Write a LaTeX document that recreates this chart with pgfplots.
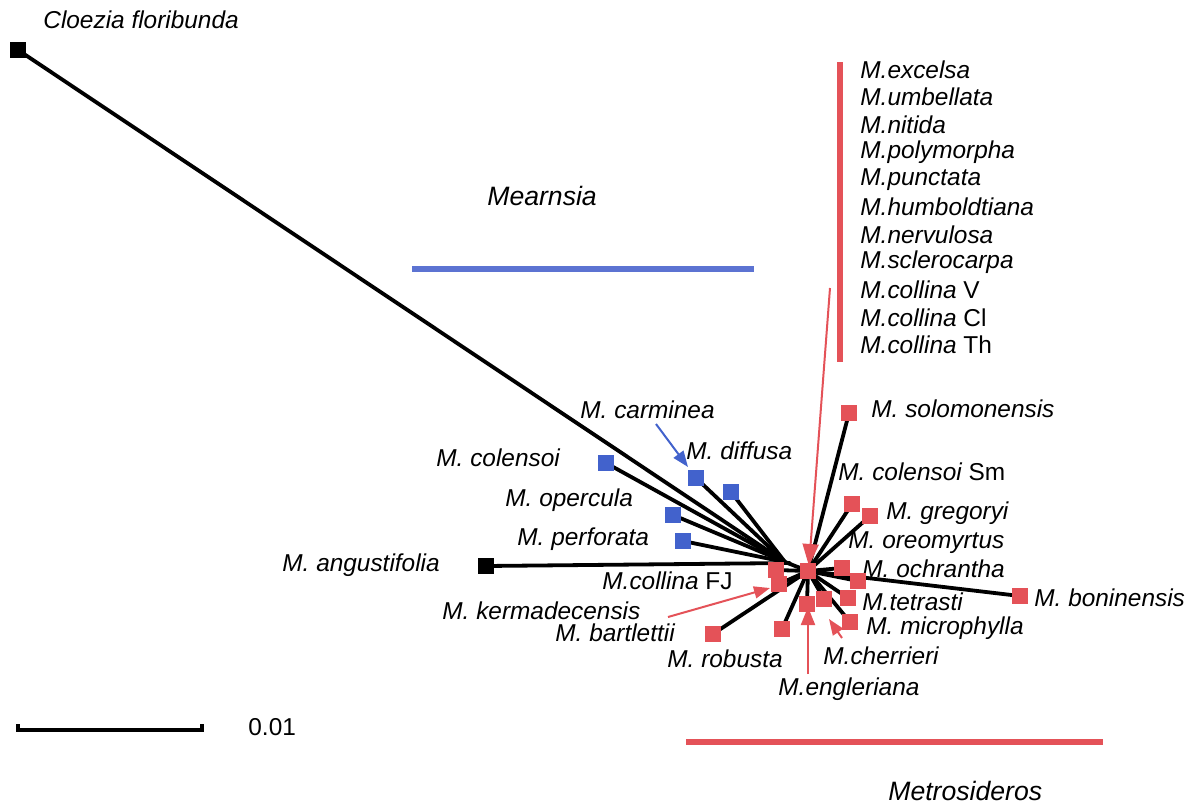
\documentclass[border=0pt]{standalone}
\usepackage{pgfplots}
\pgfplotsset{compat=1.18}
\usepackage{fontspec}
\setmainfont{Liberation Sans}
\usetikzlibrary{arrows.meta}
\definecolor{tred}{RGB}{228,82,88}
\definecolor{tblue}{RGB}{66,98,204}
\definecolor{lblue}{RGB}{92,115,210}
\begin{document}
\begin{tikzpicture}[
  lab/.style={anchor=west,inner sep=0pt,font=\fontsize{12.2}{14}\selectfont\itshape},
  big/.style={anchor=west,inner sep=0pt,font=\fontsize{13.3}{15}\selectfont\itshape}]
\begin{axis}[
  width=598pt,height=402pt,scale only axis,
  xmin=0,xmax=1196,ymin=0,ymax=804,y dir=reverse,
  hide axis,clip=false]
% branches from node A (Mearnsia / outgroup node)
\pgfplotsset{br/.style={black,line width=1.9pt,line cap=round}}
\addplot[br] coordinates {(785,562) (18,50)};
\addplot[br] coordinates {(790,563) (486,566)};
\addplot[br] coordinates {(785,562) (606,463)};
\addplot[br] coordinates {(785,562) (696,478)};
\addplot[br] coordinates {(785,562) (731,492)};
\addplot[br] coordinates {(785,562) (673,515)};
\addplot[br] coordinates {(785,562) (683,541)};
\addplot[br] coordinates {(785,562) (808,571)};
% branches from node B (Metrosideros)
\addplot[br] coordinates {(808,571) (849,413)};
\addplot[br] coordinates {(808,571) (852,504)};
\addplot[br] coordinates {(808,571) (870,516)};
\addplot[br] coordinates {(808,571) (842,568)};
\addplot[br] coordinates {(808,571) (858,581)};
\addplot[br] coordinates {(808,571) (1020,596)};
\addplot[br] coordinates {(808,571) (776,570)};
\addplot[br] coordinates {(808,571) (779,584)};
\addplot[br] coordinates {(808,571) (713,634)};
\addplot[br] coordinates {(808,571) (782,629)};
\addplot[br] coordinates {(808,571) (807,604)};
\addplot[br] coordinates {(808,571) (824,599)};
\addplot[br] coordinates {(808,571) (848,598)};
\addplot[br] coordinates {(808,571) (850,622)};
% tips
\addplot[only marks,mark=square*,mark size=3.7pt,black] coordinates {(18,50) (486,566)};
\addplot[only marks,mark=square*,mark size=3.7pt,tblue,mark options={draw=tblue,fill=tblue}] coordinates {
 (606,463) (696,478) (731,492) (673,515) (683,541)};
\addplot[only marks,mark=square*,mark size=3.7pt,tred,mark options={draw=tred,fill=tred}] coordinates {
 (849,413) (852,504) (870,516) (842,568) (858,581) (1020,596) (776,570) (779,584)
 (713,634) (782,629) (807,604) (824,599) (848,598) (850,622) (808,571)};
% group bars
\addplot[lblue,line width=3pt] coordinates {(412,269) (754,269)};
\addplot[tred,line width=2.8pt] coordinates {(686,742) (1103,742)};
\addplot[tred,line width=2.8pt] coordinates {(840,62) (840,362)};
% arrows
\addplot[tred,line width=1pt,-{Triangle[length=11pt,width=8pt]}] coordinates {(830,288) (809,566)};
\addplot[tblue,line width=1pt,-{Triangle[length=8pt,width=6pt]}] coordinates {(656,424) (688,467)};
\addplot[tred,line width=1pt,-{Triangle[length=8pt,width=6pt]}] coordinates {(668,617) (770,588)};
\addplot[tred,line width=1pt,-{Triangle[length=9pt,width=7pt]}] coordinates {(808,674) (808,607)};
\addplot[tred,line width=1pt,-{Triangle[length=8pt,width=6pt]}] coordinates {(842,638) (829,619)};
% scale bar
\addplot[black,line width=2pt] coordinates {(18,724) (18,730) (202,730) (202,724)};
\node[anchor=west,inner sep=0pt,font=\fontsize{12.2}{14}\selectfont] at (axis cs:248,727) {0.01};
% labels
\node[lab] at (axis cs:43,20) {Cloezia floribunda};
\node[big] at (axis cs:487,196) {Mearnsia};
\node[big] at (axis cs:888,791) {Metrosideros};
\node[lab] at (axis cs:860,70) {M.excelsa};
\node[lab] at (axis cs:860,97) {M.umbellata};
\node[lab] at (axis cs:860,125) {M.nitida};
\node[lab] at (axis cs:860,152) {M.polymorpha};
\node[lab] at (axis cs:860,180) {M.punctata};
\node[lab] at (axis cs:860,207) {M.humboldtiana};
\node[lab] at (axis cs:860,235) {M.nervulosa};
\node[lab] at (axis cs:860,262) {M.sclerocarpa};
\node[lab] at (axis cs:860,290) {M.collina \upshape V};
\node[lab] at (axis cs:860,318) {M.collina \upshape Cl};
\node[lab] at (axis cs:860,345) {M.collina \upshape Th};
\node[lab] at (axis cs:580,410) {M. carminea};
\node[lab] at (axis cs:686,451) {M. diffusa};
\node[lab] at (axis cs:436,458) {M. colensoi};
\node[lab] at (axis cs:505,500) {M. opercula};
\node[lab] at (axis cs:517,539) {M. perforata};
\node[lab] at (axis cs:282,565) {M. angustifolia};
\node[lab] at (axis cs:602,581) {M.collina \upshape FJ};
\node[lab] at (axis cs:442,611) {M. kermadecensis};
\node[lab] at (axis cs:555,633) {M. bartlettii};
\node[lab] at (axis cs:667,659) {M. robusta};
\node[lab] at (axis cs:778,689) {M.engleriana};
\node[lab] at (axis cs:823,656) {M.cherrieri};
\node[lab] at (axis cs:866,628) {M. microphylla};
\node[lab] at (axis cs:862,602) {M.tetrasti};
\node[lab] at (axis cs:1034,598) {M. boninensis};
\node[lab] at (axis cs:862,569) {M. ochrantha};
\node[lab] at (axis cs:848,543) {M. oreomyrtus};
\node[lab] at (axis cs:886,513) {M. gregoryi};
\node[lab] at (axis cs:838,472) {M. colensoi \upshape Sm};
\node[lab] at (axis cs:871,409) {M. solomonensis};
\path (axis cs:0,0) rectangle (axis cs:1196,804);
\end{axis}
\end{tikzpicture}
\end{document}
